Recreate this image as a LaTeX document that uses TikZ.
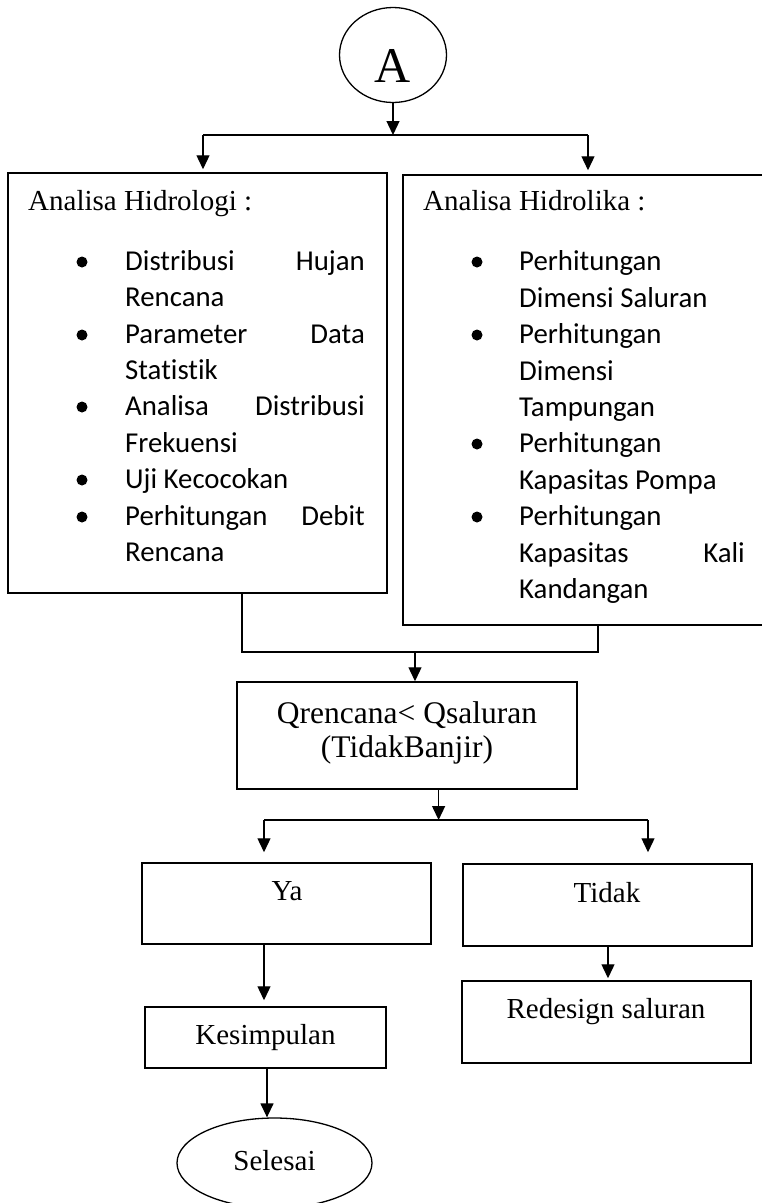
\documentclass[tikz,border=0pt]{standalone}
\usepackage{fontspec}
\setmainfont{Liberation Serif}
\newfontfamily\carl[Ligatures={NoCommon}]{Carlito}
\usetikzlibrary{arrows.meta,shapes.geometric}
\newcommand\tnrfont{\fontsize{29}{35}\selectfont}
\newcommand\tnrbig{\fontsize{31.5}{35}\selectfont}
\newcommand\calfont{\carl\fontsize{28.8}{35}\selectfont}
\begin{document}
\begin{tikzpicture}[x=1pt,y=-1pt,
  line/.style={line width=1.3pt},
  arr/.style={line width=1.3pt,-{Triangle[width=13pt,length=14pt]}},
  box/.style={draw,line width=1.5pt,rectangle,inner sep=0pt},
  tnr/.style={font=\tnrfont,inner sep=0pt,anchor=base},
  tnrl/.style={font=\tnrfont,inner sep=0pt,anchor=base west},
  cal/.style={font=\calfont,inner sep=0pt,anchor=base west},
  calr/.style={font=\calfont,inner sep=0pt,anchor=base east},
  bul/.style={circle,fill=black,inner sep=0pt,minimum size=11pt}]
\useasboundingbox (0,0) rectangle (761,1203);
% start
\node[draw,ellipse,line width=1.3pt,minimum width=107pt,minimum height=95pt,inner sep=0pt] (A) at (393,55) {};
\node[tnr,font=\fontsize{50}{50}\selectfont] (At) at (393,82) {A};
% boxes
\node[box,minimum width=379pt,minimum height=420pt] (hid) at (197.5,383) {};
\node[box,minimum width=363pt,minimum height=450pt] (hik) at (584.5,400) {};
% left box text
\node[tnrl] (hidt) at (28,210) {Analisa Hidrologi :};
\node[cal] (l1a) at (125,270) {Distribusi};
\node[calr] (l1b) at (365,270) {Hujan};
\node[cal] (l2) at (125,306) {Rencana};
\node[cal] (l3a) at (125,343) {Parameter};
\node[calr] (l3b) at (365,343) {Data};
\node[cal] (l4) at (125,379) {Statistik};
\node[cal] (l5a) at (125,415) {Analisa};
\node[calr] (l5b) at (365,415) {Distribusi};
\node[cal] (l6) at (125,452) {Frekuensi};
\node[cal] (l7) at (125,488) {Uji Kecocokan};
\node[cal] (l8a) at (125,525) {Perhitungan};
\node[calr] (l8b) at (365,525) {Debit};
\node[cal] (l9) at (125,561) {Rencana};
\foreach \y/\n in {270/1,343/2,415/3,488/4,525/5}
  \node[bul] (lb\n) at (82,\y-8) {};
% right box text
\node[tnrl] (hikt) at (423,210) {Analisa Hidrolika :};
\node[cal] (r1) at (519,270) {Perhitungan};
\node[cal] (r2) at (519,307) {Dimensi Saluran};
\node[cal] (r3) at (519,343) {Perhitungan};
\node[cal] (r4) at (519,380) {Dimensi};
\node[cal] (r5) at (519,416) {Tampungan};
\node[cal] (r6) at (519,452) {Perhitungan};
\node[cal] (r7) at (519,489) {Kapasitas Pompa};
\node[cal] (r8) at (519,525) {Perhitungan};
\node[cal] (r9a) at (519,562) {Kapasitas};
\node[calr] (r9b) at (745,562) {Kali};
\node[cal] (r10) at (519,598) {Kandangan};
\foreach \y/\n in {270/1,343/2,452/3,525/4}
  \node[bul] (rb\n) at (477,\y-8) {};
% decision
\node[box,minimum width=340pt,minimum height=107pt] (q) at (407,735.5) {};
\node[tnr,font=\tnrbig] (q1) at (407,723) {Qrencana< Qsaluran};
\node[tnr,font=\tnrbig] (q2) at (407,757) {(TidakBanjir)};
% results
\node[box,minimum width=289pt,minimum height=81pt] (ya) at (286.5,903.5) {};
\node[tnr] (yat) at (287,900) {Ya};
\node[box,minimum width=289pt,minimum height=82pt] (td) at (607.5,905) {};
\node[tnr] (tdt) at (607,902) {Tidak};
\node[box,minimum width=241pt,minimum height=61pt] (kes) at (265.5,1037.5) {};
\node[tnr] (kest) at (265.5,1044) {Kesimpulan};
\node[box,minimum width=289pt,minimum height=82pt] (red) at (606.5,1022) {};
\node[tnr] (redt) at (606,1018) {Redesign saluran};
\node[draw,ellipse,line width=1.3pt,minimum width=195pt,minimum height=90pt,inner sep=0pt] (sel) at (274.5,1163) {};
\node[tnr] (selt) at (274.5,1170) {Selesai};
% connectors top
\coordinate (j1) at (393,135);
\coordinate (j1l) at (203,135);
\coordinate (j1r) at (588,135);
\draw[arr] (A.south) -- (j1);
\draw[line] (j1l) -- (j1r);
\draw[arr,shorten >=3pt] (j1l) -- (j1l |- hid.north);
\draw[arr,shorten >=4pt] (j1r) -- (j1r |- hik.north);
% merge
\coordinate (j2l) at (242,652);
\coordinate (j2r) at (598,652);
\coordinate (j2) at (415,652);
\draw[line] (j2l |- hid.south) -- (j2l) -- (j2r) -- (j2r |- hik.south);
\draw[arr] (j2) -- (j2 |- q.north);
% split
\coordinate (j3) at (438.6,820);
\coordinate (j3l) at (264,820);
\coordinate (j3r) at (648,820);
\draw[arr] (j3 |- q.south) -- (j3);
\draw[line] (j3l) -- (j3r);
\draw[arr,shorten >=10pt] (j3l) -- (j3l |- ya.north);
\draw[arr,shorten >=11pt] (j3r) -- (j3r |- td.north);
% lower
\coordinate (c1) at (264,0);
\coordinate (c2) at (608,0);
\coordinate (c3) at (267,0);
\draw[arr,shorten >=6pt] (ya.south -| c1) -- (kes.north -| c1);
\draw[arr,shorten >=2pt] (td.south -| c2) -- (red.north -| c2);
\draw[arr] (kes.south -| c3) -- (sel.north -| c3);
\end{tikzpicture}
\end{document}
